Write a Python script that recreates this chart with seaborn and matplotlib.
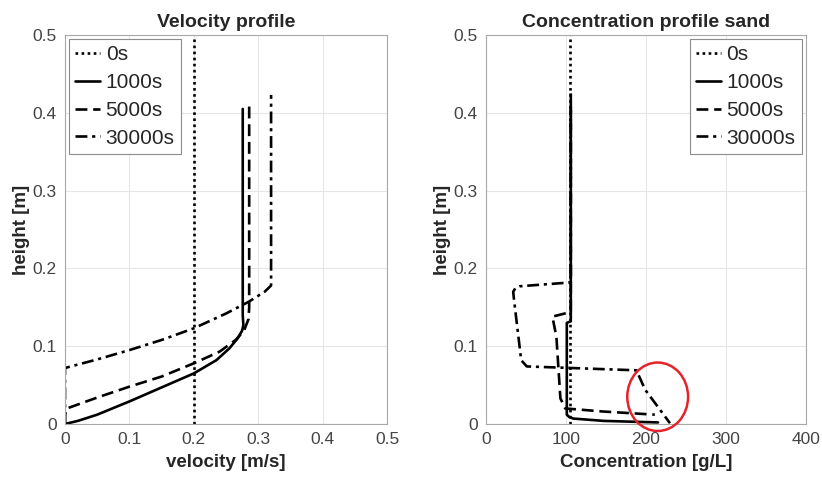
import matplotlib
matplotlib.use("Agg")
import matplotlib.pyplot as plt
from matplotlib.patches import Ellipse
import seaborn as sns

# ---------------- data ----------------
labels = ["0s", "1000s", "5000s", "30000s"]

# Velocity profile (velocity [m/s], height [m])
vel_0s = [0.2, 0.2]
hv_0s = [0.0, 0.5]
vel_1000 = [0.0, 0.02, 0.05, 0.1, 0.15, 0.2, 0.235, 0.255, 0.268, 0.275, 0.277, 0.276, 0.276]
hv_1000 = [0.0, 0.004, 0.012, 0.029, 0.047, 0.065, 0.082, 0.097, 0.11, 0.12, 0.127, 0.14, 0.405]
vel_5000 = [0.0, 0.0, 0.003, 0.05, 0.1, 0.15, 0.2, 0.24, 0.265, 0.278, 0.285, 0.286, 0.286]
hv_5000 = [0.0, 0.012, 0.02, 0.034, 0.048, 0.061, 0.078, 0.093, 0.108, 0.12, 0.135, 0.15, 0.408]
vel_30000 = [0.0, 0.0, 0.05, 0.1, 0.15, 0.2, 0.25, 0.285, 0.31, 0.32, 0.32]
hv_30000 = [0.0, 0.072, 0.083, 0.095, 0.108, 0.123, 0.142, 0.157, 0.17, 0.178, 0.423]

# Concentration profile sand (concentration [g/L], height [m])
con_0s = [105, 105]
hc_0s = [0.0, 0.5]
con_1000 = [106, 106, 101, 101, 104, 109, 147, 215]
hc_1000 = [0.408, 0.132, 0.13, 0.012, 0.009, 0.007, 0.004, 0.002]
con_5000 = [106, 106, 83, 88, 93, 99, 147, 211]
hc_5000 = [0.41, 0.144, 0.138, 0.112, 0.033, 0.02, 0.016, 0.012]
con_30000 = [106, 106, 42, 37, 34, 35, 44, 51, 188, 199, 230]
hc_30000 = [0.425, 0.182, 0.177, 0.175, 0.17, 0.16, 0.082, 0.074, 0.069, 0.044, 0.001]

# highlight ellipse (center conc, center height, half width, half height)
circ = (214.6, 0.035, 38.0, 0.044)

# ---------------- style ----------------
sns.set_style("white")
plt.rcParams["font.family"] = ["Liberation Sans", "DejaVu Sans"]

lw = 1.9
styles = [(0, (1.0, 1.3)), "-", (0, (4.5, 2.2)), (0, (4.5, 1.8, 1.2, 1.8))]

fig = plt.figure(figsize=(8.22, 4.79), dpi=100)
ax1 = fig.add_axes([65 / 822, 1 - 424 / 479, 322 / 822, 389 / 479])
ax2 = fig.add_axes([486 / 822, 1 - 424 / 479, 320 / 822, 389 / 479])

vel_series = [(vel_0s, hv_0s), (vel_1000, hv_1000), (vel_5000, hv_5000), (vel_30000, hv_30000)]
con_series = [(con_0s, hc_0s), (con_1000, hc_1000), (con_5000, hc_5000), (con_30000, hc_30000)]

for ax, series in ((ax1, vel_series), (ax2, con_series)):
    for (xs, ys), lab, ls in zip(series, labels, styles):
        sns.lineplot(x=xs, y=ys, sort=False, estimator=None, color="black",
                     linewidth=lw, label=lab, ax=ax)
        ax.lines[-1].set_linestyle(ls)

spine_c = "#a8a8a8"
tick_c = "#444444"
for ax in (ax1, ax2):
    ax.set_ylim(0, 0.5)
    ax.set_yticks([0, 0.1, 0.2, 0.3, 0.4, 0.5])
    ax.set_yticklabels(["0", "0.1", "0.2", "0.3", "0.4", "0.5"])
    ax.grid(True, color="#e6e6e6", linewidth=0.8)
    ax.set_axisbelow(True)
    for s in ax.spines.values():
        s.set_visible(True)
        s.set_color(spine_c)
        s.set_linewidth(0.8)
    ax.tick_params(axis="both", direction="out", length=3, width=0.8, color=spine_c,
                   labelsize=12.5, labelcolor=tick_c, pad=3)
    ax.set_ylabel("height [m]", fontsize=13.5, fontweight="bold", labelpad=2)

ax1.set_xlim(0, 0.5)
ax1.set_xticks([0, 0.1, 0.2, 0.3, 0.4, 0.5])
ax1.set_xticklabels(["0", "0.1", "0.2", "0.3", "0.4", "0.5"])
ax1.set_xlabel("velocity [m/s]", fontsize=13.5, fontweight="bold", labelpad=5)
ax1.set_title("Velocity profile", fontsize=14, fontweight="bold", pad=6)

ax2.set_xlim(0, 400)
ax2.set_xticks([0, 100, 200, 300, 400])
ax2.set_xlabel("Concentration [g/L]", fontsize=13.5, fontweight="bold", labelpad=5)
ax2.set_title("Concentration profile sand", fontsize=14, fontweight="bold", pad=6)

ell = Ellipse((circ[0], circ[1]), width=2 * circ[2], height=2 * circ[3], fill=False,
              edgecolor="#e4232b", linewidth=1.8, clip_on=False, zorder=5)
ax2.add_patch(ell)

for ax, loc in ((ax1, "upper left"), (ax2, "upper right")):
    leg = ax.legend(loc=loc, fontsize=15, frameon=True, fancybox=False, framealpha=1,
                    edgecolor="#8c8c8c", handlelength=1.2, handletextpad=0.25,
                    labelspacing=0.42, borderpad=0.3, borderaxespad=0.2)
    leg.get_frame().set_linewidth(0.8)

fig.savefig("out.png", dpi=100)
